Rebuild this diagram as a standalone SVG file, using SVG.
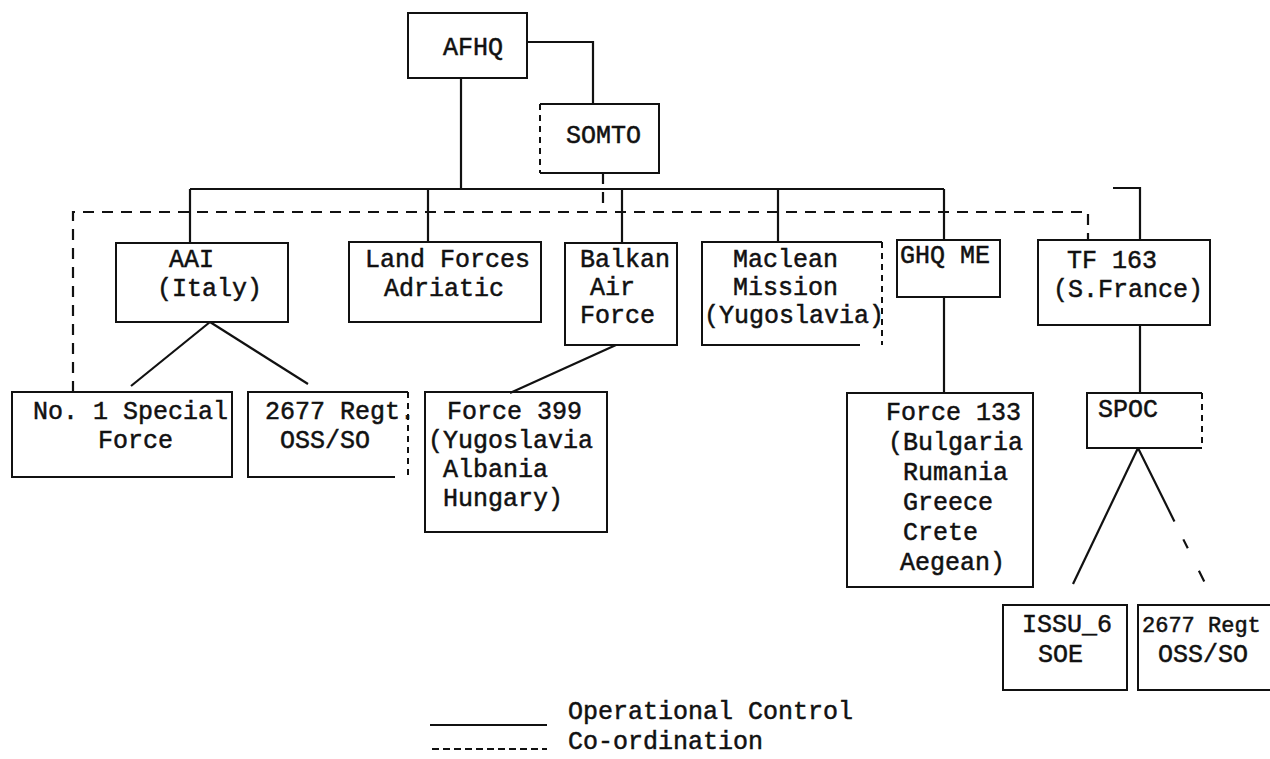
<svg xmlns="http://www.w3.org/2000/svg" width="1270" height="759" viewBox="0 0 1270 759">
<style>
.bg{fill:#fff}
.box{fill:none;stroke:#111;stroke-width:2}
.dside{fill:none;stroke:#111;stroke-width:2;stroke-dasharray:6 5}
.t{font-family:"Liberation Mono","Courier New",monospace;font-size:25px;fill:#111;stroke:#111;stroke-width:0.5}
.op{fill:none;stroke:#111;stroke-width:2.2}
.co{fill:none;stroke:#111;stroke-width:2.2;stroke-dasharray:11 8}
.lco{fill:none;stroke:#111;stroke-width:2;stroke-dasharray:7 4}
</style>
<rect class="bg" x="0" y="0" width="1270" height="759"/>

<g id="connectors">
  <path class="op" d="M527,42 H593 V104"/>
  <path class="op" d="M461,78 V189"/>
  <path class="op" d="M190,189 H944"/>
  <path class="op" d="M190,189 V243"/>
  <path class="op" d="M428,189 V242"/>
  <path class="op" d="M622,189 V243"/>
  <path class="op" d="M778,189 V242"/>
  <path class="op" d="M944,189 V240"/>
  <path class="op" d="M1113,188 H1140 V240"/>
  <path class="op" d="M944,297 V393"/>
  <path class="op" d="M1140,325 V393"/>
  <path class="op" d="M210,322 L131,386"/>
  <path class="op" d="M210,322 L308,384"/>
  <path class="op" d="M616,345 L510,393"/>
  <path class="op" d="M1138,448 L1073,584"/>
  <path class="op" d="M1138,448 L1205,583" stroke-dasharray="82 20 10 25 12 100"/>
  <path class="co" d="M73,392 V212 H1088 V240"/>
  <path class="co" d="M603,173 V212" stroke-dasharray="8 10"/>
</g>

<g id="afhq">
  <rect class="box" x="408" y="13" width="119" height="65"/>
  <text class="t" x="443" y="55">AFHQ</text>
</g>
<g id="somto">
  <path class="box" d="M540,104 H659 V173 H540"/>
  <path class="dside" d="M540,104 V173"/>
  <text class="t" x="566" y="143">SOMTO</text>
</g>
<g id="aai">
  <rect class="box" x="116" y="243" width="172" height="79"/>
  <text class="t" x="169" y="267">AAI</text>
  <text class="t" x="157" y="296">(Italy)</text>
</g>
<g id="landforces">
  <rect class="box" x="349" y="242" width="192" height="80"/>
  <text class="t" x="365" y="267">Land Forces</text>
  <text class="t" x="384" y="296">Adriatic</text>
</g>
<g id="balkan">
  <rect class="box" x="565" y="243" width="112" height="102"/>
  <text class="t" x="580" y="267">Balkan</text>
  <text class="t" x="590" y="295">Air</text>
  <text class="t" x="580" y="323">Force</text>
</g>
<g id="maclean">
  <path class="box" d="M882,242 H702 V345 H860"/>
  <path class="dside" d="M882,242 V345"/>
  <text class="t" x="733" y="267">Maclean</text>
  <text class="t" x="733" y="295">Mission</text>
  <text class="t" x="704" y="323">(Yugoslavia)</text>
</g>
<g id="ghqme">
  <rect class="box" x="897" y="240" width="103" height="57"/>
  <text class="t" x="900" y="263">GHQ ME</text>
</g>
<g id="tf163">
  <rect class="box" x="1038" y="240" width="172" height="85"/>
  <text class="t" x="1067" y="268">TF 163</text>
  <text class="t" x="1053" y="297">(S.France)</text>
</g>
<g id="no1special">
  <rect class="box" x="12" y="392" width="220" height="85"/>
  <text class="t" x="33" y="419">No. 1 Special</text>
  <text class="t" x="98" y="448">Force</text>
</g>
<g id="regt2677italy">
  <path class="box" d="M408,392 H248 V477 H395"/>
  <path class="dside" d="M408,392 V477"/>
  <text class="t" x="265" y="419">2677 Regt.</text>
  <text class="t" x="280" y="448">OSS/SO</text>
</g>
<g id="force399">
  <rect class="box" x="425" y="392" width="182" height="140"/>
  <text class="t" x="447" y="419">Force 399</text>
  <text class="t" x="428" y="448">(Yugoslavia</text>
  <text class="t" x="443" y="477">Albania</text>
  <text class="t" x="443" y="506">Hungary)</text>
</g>
<g id="force133">
  <rect class="box" x="847" y="393" width="186" height="194"/>
  <text class="t" x="886" y="420">Force 133</text>
  <text class="t" x="888" y="450">(Bulgaria</text>
  <text class="t" x="903" y="480">Rumania</text>
  <text class="t" x="903" y="510">Greece</text>
  <text class="t" x="903" y="540">Crete</text>
  <text class="t" x="900" y="570">Aegean)</text>
</g>
<g id="spoc">
  <path class="box" d="M1202,393 H1087 V448 H1202"/>
  <path class="dside" d="M1202,393 V448" stroke-dasharray="4 14"/>
  <text class="t" x="1098" y="417">SPOC</text>
</g>
<g id="issu6">
  <rect class="box" x="1003" y="605" width="124" height="85"/>
  <text class="t" x="1022" y="632">ISSU_6</text>
  <text class="t" x="1038" y="662">SOE</text>
</g>
<g id="regt2677france">
  <path class="box" d="M1270,605 H1138 V690 H1270"/>
  <text class="t" x="1142" y="632" style="font-size:22px">2677 Regt</text>
  <text class="t" x="1158" y="662">OSS/SO</text>
</g>

<g id="legend">
  <path class="op" d="M430,725 H547"/>
  <path class="lco" d="M432,749 H547"/>
  <text class="t" x="568" y="719">Operational Control</text>
  <text class="t" x="568" y="749">Co-ordination</text>
</g>
</svg>
